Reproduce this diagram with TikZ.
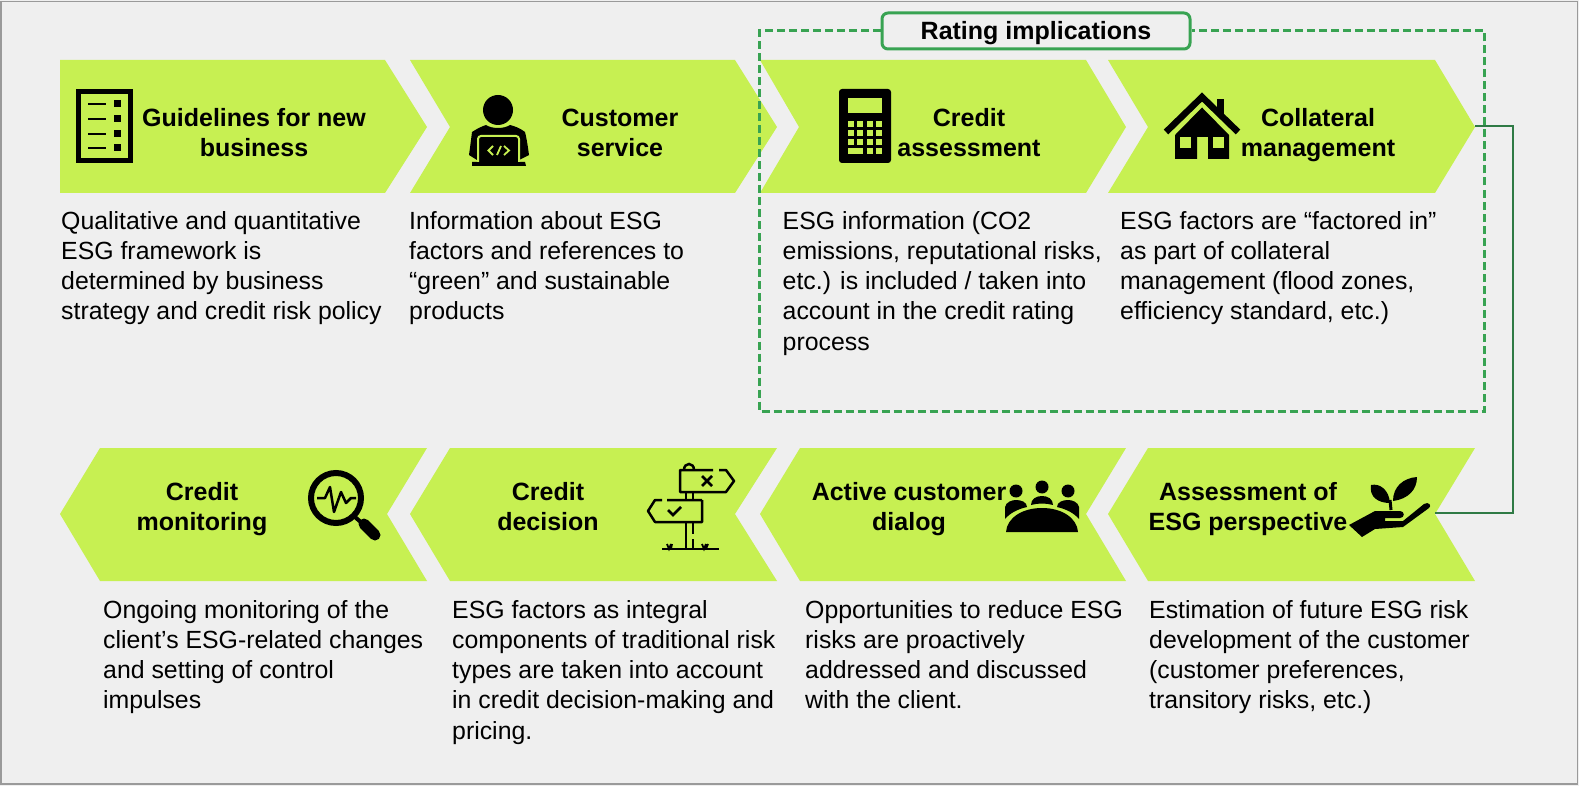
\documentclass[tikz,border=0pt]{standalone}
\usepackage{fontspec}
\setmainfont{Liberation Sans}
\usetikzlibrary{calc}
\pgfdeclarelayer{background}
\pgfdeclarelayer{foreground}
\pgfsetlayers{background,main,foreground}

\definecolor{panelgray}{HTML}{EFEFEF}
\definecolor{panelline}{HTML}{9A9A9A}
\definecolor{lime}{HTML}{C7F052}
\definecolor{boxgreen}{HTML}{38A352}
\definecolor{flowgreen}{HTML}{2F7A45}

\tikzset{
  chevron/.style={fill=lime,draw=none},
  titletext/.style={inner sep=0pt,align=center,text height=50pt,text depth=6pt,font=\fontsize{25}{30.2}\selectfont\bfseries},
  bodytext/.style={anchor=north west,inner sep=0pt,align=left,font=\fontsize{24.85}{30.2}\selectfont},
  ratingbox/.style={draw=boxgreen,line width=3pt,rounded corners=6pt,fill=panelgray,minimum width=308pt,minimum height=36pt,inner sep=0pt,text height=22pt,text depth=5pt,font=\fontsize{25}{28}\selectfont\bfseries},
  dashedbox/.style={draw=boxgreen,line width=3pt,dash pattern=on 8pt off 4pt},
  flowline/.style={draw=flowgreen,line width=1.6pt},
  iconline/.style={draw=black,line width=2.5pt},
  iconcut/.style={draw=lime,line width=2pt},
}

\begin{document}
\begin{tikzpicture}[x=1pt,y=-1pt]
\useasboundingbox (0,0) rectangle (1579,786);

\begin{pgfonlayer}{background}
  \fill[panelgray] (0,0) rectangle (1579,786);
  \draw[panelline,line width=1.5pt] (1,1.5) rectangle (1577.5,784);
\end{pgfonlayer}

% top row points right
\foreach \name/\xl/\xn/\xr/\xt in {guide/60/60/385/427,service/410/450/735/777,credit/760/799/1086/1126,collateral/1108/1148/1435/1475}{
  \fill[chevron] (\xl,60) -- (\xr,60) -- (\xt,127) -- (\xr,193) -- (\xl,193) -- (\xn,127) -- cycle;
  \coordinate (\name Tip) at (\xt,126);
}
% bottom row points left
\foreach \name/\xt/\xl/\xr/\xn in {monitor/60/100/427/387,decision/410/450/777/735,dialog/760/800/1126/1086,perspective/1108/1148/1475/1435}{
  \fill[chevron] (\xt,514) -- (\xl,448) -- (\xr,448) -- (\xn,514) -- (\xr,581) -- (\xl,581) -- cycle;
  \coordinate (\name Notch) at (\xn,513);
}

\draw[flowline] (collateralTip) -- ++(38,0) |- (perspectiveNotch);

% guidelines icon
\draw[black,line width=5pt] (78.5,91.5) rectangle (130.5,160.5);
\foreach \y in {104,119,134,148}{
  \draw[black,line width=2.7pt] (88,\y) -- (106,\y);
  \fill[black] (114,\y-3.5) rectangle (121,\y+3.5);
}

% customer service icon
\fill[black] (498,110) circle[radius=15];
\fill[black] (472,132) .. controls (478,128) and (483,126) .. (486,125) .. controls (492,129) and (504,129) .. (510,125) .. controls (514,126) and (520,128) .. (525,132) .. controls (527,140) and (528,148) .. (529,155) -- (519,160) -- (519,162) -- (525,162) -- (526,166) -- (472,166) -- (472,162) -- (477,162) -- (477,160) -- (469,155) .. controls (470,148) and (471,140) .. (472,132) -- cycle;
\draw[iconcut,rounded corners=3pt] (478,162) -- (478,136) -- (519,136) -- (519,162);
\draw[lime,line width=1.8pt] (493,146) -- (488.5,150.5) -- (493,155) (501,146) -- (497,155) (504,146) -- (509,150.5) -- (504,155);

% calculator icon
\fill[black,rounded corners=3pt] (839,89) rectangle (891,163);
\fill[lime] (848.3,98.3) rectangle (882,113.3);
\foreach \kx in {848.3,857.3,866.7,876}{
  \foreach \ky in {120.7,129.7,139}{
    \fill[lime] (\kx,\ky) rectangle (\kx+6,\ky+6);
  }
}
\fill[lime] (848.3,148.3) rectangle (863.3,154.3);
\fill[lime] (866.7,148.3) rectangle (872.7,154.3);
\fill[lime] (876,148.3) rectangle (882,154.3);

% house icon
\fill[black] (1217,99) rectangle (1224,115);
\draw[black,line width=6.5pt] (1166,132) -- (1202,97) -- (1238,132);
\fill[black] (1175,135) -- (1202,107.5) -- (1229,135) -- (1229,159) -- (1208,159) -- (1208,137) -- (1197,137) -- (1197,159) -- (1175,159) -- cycle;
\fill[lime] (1180,137) rectangle (1191,148);
\fill[lime] (1213,137) rectangle (1224,148);

% magnifier icon
\draw[black,line width=6pt] (336,498) circle[radius=25];
\draw[black,line width=2.5pt,line join=round] (317,498) -- (325,498) -- (330,487) -- (334,512) -- (341,492) -- (346,503) -- (351,498) -- (356,498);
\draw[black,line width=4pt] (355,517) -- (363,524);
\draw[black,line width=11pt,line cap=round] (364,524) -- (375,535);

% signpost icon
\draw[iconline,line join=round] (713,470) -- (680,470) -- (680,492) -- (726,492) -- (734,481) -- (726,470) -- (719,470);
\draw[iconline] (702,476) -- (712,486) (712,476) -- (702,486);
\draw[iconline,line join=round] (702,500) -- (667,500) (662,500) -- (655,500) -- (648,511) -- (655,522) -- (702,522) -- (702,500);
\draw[iconline] (668,510) -- (673,515) -- (681,507);
\draw[iconline] (686,492) -- (686,500) (686,522) -- (686,549) (693,492) -- (693,500) (693,522) -- (693,534) (693,539) -- (693,549);
\draw[iconline] (684,470) .. controls (684,462) and (694,462) .. (694,470);
\draw[iconline] (662,549) -- (719,549);
\draw[black,line width=1.8pt] (667,544) -- (669,549) -- (671,544) (672,544) -- (671,549) (702,544) -- (704,549) -- (706,544) (708,544) -- (706,549);

% meeting icon
\foreach \hx/\hy in {1016/491,1042/487,1068/491}{
  \fill[black] (\hx,\hy) circle[radius=6.5];
}
\fill[black] (1006,532) .. controls (1007,518) and (1022,508) .. (1042,508) .. controls (1062,508) and (1077,518) .. (1078,532) -- cycle;
\fill[black] (1005,519) -- (1005,507) .. controls (1006,502) and (1012,500) .. (1016,500) .. controls (1021,500) and (1027,502) .. (1027,507) .. controls (1018,509) and (1010,513) .. (1005,519) -- cycle;
\fill[black] (1031,505) .. controls (1031,499) and (1036,496) .. (1042,496) .. controls (1048,496) and (1053,499) .. (1053,505) .. controls (1046,503) and (1038,503) .. (1031,505) -- cycle;
\fill[black] (1079,519) -- (1079,507) .. controls (1078,502) and (1072,500) .. (1068,500) .. controls (1063,500) and (1057,502) .. (1057,507) .. controls (1066,509) and (1074,513) .. (1079,519) -- cycle;

% plant icon
\fill[black] (1371,485) .. controls (1380,483) and (1389,490) .. (1390,503) .. controls (1378,503) and (1369,497) .. (1371,485) -- cycle;
\fill[black] (1417,477) .. controls (1417,490) and (1408,499) .. (1393,501) .. controls (1393,487) and (1403,478) .. (1417,477) -- cycle;
\draw[black,line width=3pt] (1390,500) -- (1391,510);
\fill[black] (1349,525) -- (1375,511) -- (1400,511) .. controls (1405,511) and (1405,518) .. (1400,518) -- (1385,518) -- (1385,521) -- (1403,521) -- (1424,504) .. controls (1429,501) and (1432,506) .. (1429,508) -- (1403,527) -- (1375,529) -- (1362,537) -- cycle;

% titles of the steps
\node[titletext] (guideTitle) at (254,134.5) {Guidelines for new\\business};
\node[titletext] (serviceTitle) at (620,134.5) {Customer\\service};
\node[titletext] (creditTitle) at (969,134.5) {Credit\\assessment};
\node[titletext] (collateralTitle) at (1318,134.5) {Collateral\\management};
\node[titletext] (monitorTitle) at (202,508.5) {Credit\\monitoring};
\node[titletext] (decisionTitle) at (548,508.5) {Credit\\decision};
\node[titletext] (dialogTitle) at (909,508.5) {Active customer\\dialog};
\node[titletext] (perspectiveTitle) at (1248,508.5) {Assessment of\\ESG perspective};

% body texts
\node[bodytext] (guideText) at (61,211) {Qualitative and quantitative\\ESG framework is\\determined by business\\strategy and credit risk policy};
\node[bodytext] (serviceText) at (409,211) {Information about ESG\\factors and references to\\“green” and sustainable\\products};
\node[bodytext] (creditText) at (782.5,211) {ESG information (CO2\\emissions, reputational risks,\\etc.) is included / taken into\\account in the credit rating\\process};
\node[bodytext] (collateralText) at (1120,211) {ESG factors are “factored in”\\as part of collateral\\management (flood zones,\\efficiency standard, etc.)};
\node[bodytext] (monitorText) at (103,600) {Ongoing monitoring of the\\client’s ESG-related changes\\and setting of control\\impulses};
\node[bodytext] (decisionText) at (452,600) {ESG factors as integral\\components of traditional risk\\types are taken into account\\in credit decision-making and\\pricing.};
\node[bodytext] (dialogText) at (805,600) {Opportunities to reduce ESG\\risks are proactively\\addressed and discussed\\with the client.};
\node[bodytext] (perspectiveText) at (1149,600) {Estimation of future ESG risk\\development of the customer\\(customer preferences,\\transitory risks, etc.)};

\begin{pgfonlayer}{foreground}
  \coordinate (BoxBL) at (759,411);
  \coordinate (BoxBR) at (1484,411);
  \node[ratingbox] (rating) at (1036,31) {Rating implications};
  \draw[dashedbox] (rating.west) -| (BoxBL) -- (BoxBR) |- (rating.east);
\end{pgfonlayer}
\end{tikzpicture}
\end{document}
